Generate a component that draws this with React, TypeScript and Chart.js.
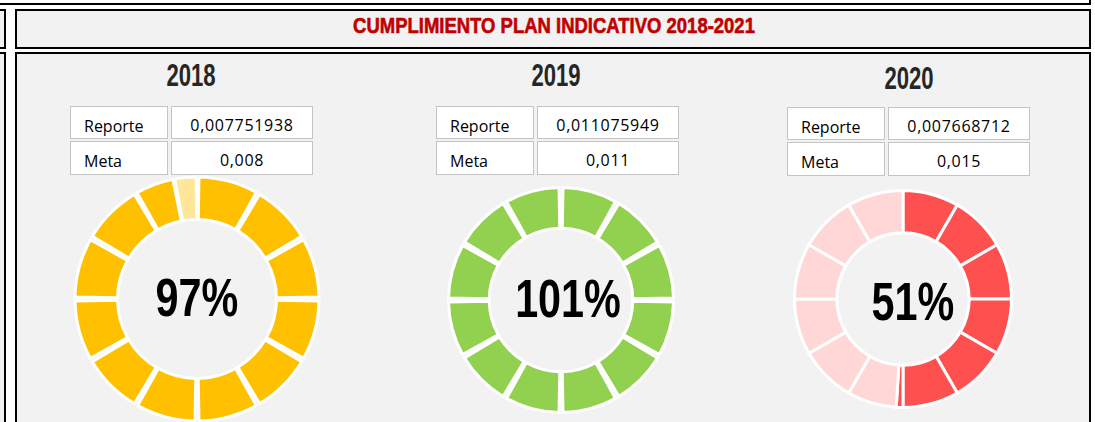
import React, { useEffect, useRef } from "react";
import { Chart, registerables } from "chart.js";

Chart.register(...registerables);

// ---------- data ----------
const title = "CUMPLIMIENTO PLAN INDICATIVO 2018-2021";
const years = ["2018", "2019", "2020"];
const rowLabels = ["Reporte", "Meta"];
const reporteValues = ["0,007751938", "0,011075949", "0,007668712"];
const metaValues = ["0,008", "0,011", "0,015"];
const percentLabels = ["97%", "101%", "51%"];

// ring segments (1 = one twelfth of the ring) and whether each one is filled
const segments2018 = [1, 1, 1, 1, 1, 1, 1, 1, 1, 1, 1, 0.64, 0.36];
const filled2018 = [1, 1, 1, 1, 1, 1, 1, 1, 1, 1, 1, 1, 0];
const segments2019 = [1, 1, 1, 1, 1, 1, 1, 1, 1, 1, 1, 1];
const filled2019 = [1, 1, 1, 1, 1, 1, 1, 1, 1, 1, 1, 1];
const segments2020 = [1, 1, 1, 1, 1, 1, 0.12, 0.88, 1, 1, 1, 1, 1];
const filled2020 = [1, 1, 1, 1, 1, 1, 1, 0, 0, 0, 0, 0, 0];

const segmentSets = [segments2018, segments2019, segments2020];
const filledSets = [filled2018, filled2019, filled2020];

// ---------- styles / layout ----------
const panelStyles = [
  { on: "#FFC000", off: "#FFE699", cx: 196.7, cy: 298.5, outer: 123.5, inner: 78, spacing: 12, border: 3, yearX: 191.3, yearY: 76, tableX: 70, tableY: 106, textX: 196.5, textY: 296.7 },
  { on: "#92D050", off: "#D3EDB9", cx: 561, cy: 300.3, outer: 114, inner: 70.3, spacing: 12, border: 3, yearX: 556.3, yearY: 76, tableX: 436, tableY: 106, textX: 567.5, textY: 297.5 },
  { on: "#FF5050", off: "#FFD7D7", cx: 903, cy: 299, outer: 110, inner: 64.7, spacing: 0, border: 3, yearX: 909, yearY: 79, tableX: 787, tableY: 107, textX: 913, textY: 300.5 },
];

const CANVAS = 270;
const condensed = "'Liberation Sans', Arial, sans-serif";
const tableFont = "'Open Sans', 'Liberation Sans', sans-serif";

function Donut({ idx }: { idx: number }) {
  const ref = useRef<HTMLCanvasElement>(null);
  const p = panelStyles[idx];
  useEffect(() => {
    const R = p.outer - p.spacing / 2 - p.border / 2;
    const Rin = p.inner - p.spacing / 2 + p.border / 2;
    const segs = segmentSets[idx];
    const filled = filledSets[idx];
    const chart = new Chart(ref.current as HTMLCanvasElement, {
      type: "doughnut",
      data: {
        labels: segs.map((_, i) => String(i + 1)),
        datasets: [
          {
            data: segs,
            backgroundColor: filled.map((f) => (f ? p.on : p.off)),
            borderColor: "#FFFFFF",
            borderWidth: p.border,
            borderJoinStyle: "miter",
            spacing: p.spacing,
            radius: R,
            cutout: (Rin / R) * 100 + "%",
          } as any,
        ],
      },
      options: {
        responsive: false,
        maintainAspectRatio: false,
        animation: false,
        devicePixelRatio: 1,
        events: [],
        layout: { padding: 0 },
        plugins: {
          legend: { display: false },
          tooltip: { enabled: false },
        },
      },
    });
    return () => chart.destroy();
  }, []);
  return (
    <canvas
      ref={ref}
      width={CANVAS}
      height={CANVAS}
      style={{ position: "absolute", left: p.cx - CANVAS / 2, top: p.cy - CANVAS / 2, width: CANVAS, height: CANVAS }}
    />
  );
}

function Cell({ x, y, w, h, text, align }: { x: number; y: number; w: number; h: number; text: string; align: "left" | "center" }) {
  return (
    <div
      style={{
        position: "absolute",
        left: x,
        top: y,
        width: w - 2,
        height: h - 2,
        border: "1px solid #C4C4C4",
        background: "#FFFFFF",
        fontFamily: tableFont,
        fontSize: 16,
        lineHeight: "20px",
        color: "#000",
        boxSizing: "content-box",
        overflow: "hidden",
      }}
    >
      <div
        style={{
          position: "absolute",
          left: align === "left" ? 13 : 0,
          width: align === "left" ? undefined : "100%",
          top: align === "left" ? 9 : 8,
          textAlign: align,
          letterSpacing: align === "left" ? 0 : 0.7,
          whiteSpace: "nowrap",
        }}
      >
        {text}
      </div>
    </div>
  );
}

function ScaledText({ cx, cy, size, scale, color, text, stroke = 0 }: { cx: number; cy: number; size: number; scale: number; color: string; text: string; stroke?: number }) {
  return (
    <div
      style={{
        position: "absolute",
        left: cx - 300,
        width: 600,
        top: cy - 0.4885 * size,
        height: size,
        lineHeight: size + "px",
        fontSize: size,
        fontFamily: condensed,
        fontWeight: "bold",
        color,
        textAlign: "center",
        whiteSpace: "nowrap",
        transform: `scaleX(${scale})`,
        transformOrigin: "50% 50%",
        WebkitTextStroke: stroke ? `${stroke}px ${color}` : undefined,
      }}
    >
      {text}
    </div>
  );
}

export default function App() {
  useEffect(() => {
    document.body.style.margin = "0";
  }, []);
  const box = (left: number, top: number, w: number, h: number, bg: string) => ({
    position: "absolute" as const,
    left,
    top,
    width: w - 4,
    height: h - 4,
    border: "2px solid #000",
    background: bg,
  });
  return (
    <div style={{ position: "fixed", left: 0, top: 0, width: 1095, height: 422, overflow: "hidden", background: "#FFFFFF" }}>
      <div style={box(-10, -10, 1101, 15, "#FFFFFF")} />
      <div style={box(-10, 9, 16, 40, "#F2F2F2")} />
      <div style={box(-10, 52, 16, 400, "#F2F2F2")} />
      <div style={box(15, 9, 1076, 40, "#F2F2F2")} />
      <div style={box(15, 52, 1076, 400, "#F2F2F2")} />

      <ScaledText cx={553.5} cy={25.8} size={22} scale={0.84} color="#C00000" text={title} stroke={0.6} />

      {panelStyles.map((p, i) => (
        <React.Fragment key={years[i]}>
          <ScaledText cx={p.yearX} cy={p.yearY} size={30.7} scale={0.72} color="#262626" text={years[i]} />
          <Cell x={p.tableX} y={p.tableY} w={98} h={33} text={rowLabels[0]} align="left" />
          <Cell x={p.tableX + 101} y={p.tableY} w={142} h={33} text={reporteValues[i]} align="center" />
          <Cell x={p.tableX} y={p.tableY + 35} w={98} h={34} text={rowLabels[1]} align="left" />
          <Cell x={p.tableX + 101} y={p.tableY + 35} w={142} h={34} text={metaValues[i]} align="center" />
          <Donut idx={i} />
          <ScaledText cx={p.textX} cy={p.textY} size={53} scale={0.78} color="#000000" text={percentLabels[i]} />
        </React.Fragment>
      ))}
    </div>
  );
}
